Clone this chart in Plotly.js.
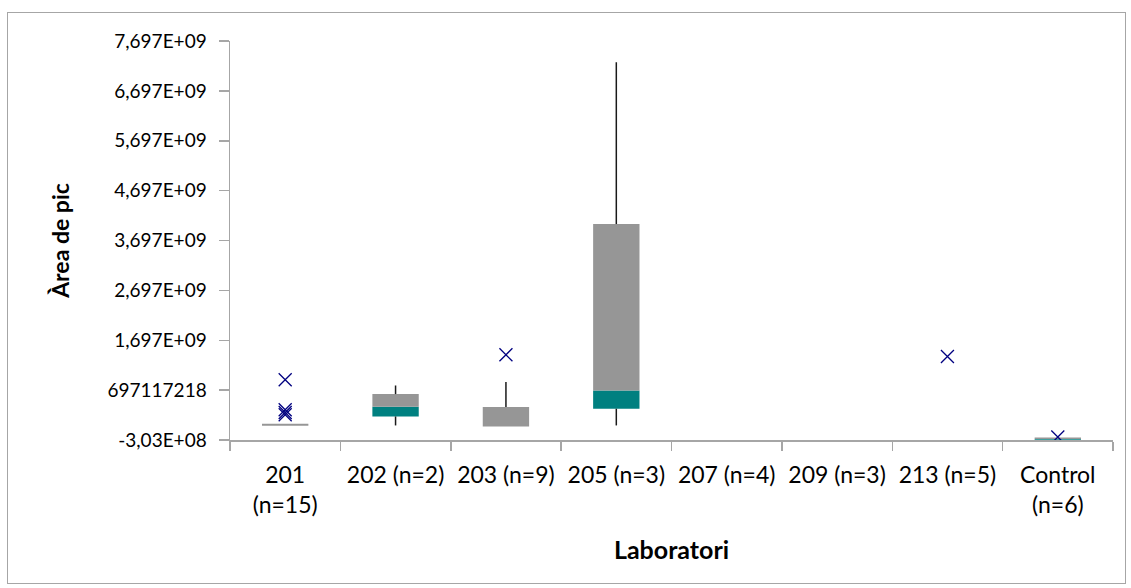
<!DOCTYPE html>
<html>
<head>
<meta charset="utf-8">
<script src="https://cdn.plot.ly/plotly-3.0.1.min.js"></script>
<style>
  html, body { margin: 0; padding: 0; background: #fff; }
  #frame { position: absolute; left: 7px; top: 12px; width: 1119px; height: 572px;
           border: 1.5px solid #a6a6a6; box-sizing: border-box; }
  #chart { position: absolute; left: 0; top: 0; width: 1131px; height: 588px; }
</style>
</head>
<body>
<div id="frame"></div>
<div id="chart"></div>
<script>
// Laboratories on the category axis
const labs = ["201<br>(n=15)", "202 (n=2)", "203 (n=9)", "205 (n=3)",
              "207 (n=4)", "209 (n=3)", "213 (n=5)", "Control<br>(n=6)"];

// Box statistics per laboratory (peak area); null where nothing is drawn
const q1       = [-0.015e9, 0.169e9, -0.031e9, 0.324e9, null, null, null, -0.300e9];
const median   = [-0.015e9, 0.364e9, -0.031e9, 0.690e9, null, null, null, -0.285e9];
const q3       = [ 0.025e9, 0.618e9,  0.358e9, 4.027e9, null, null, null, -0.255e9];
const whiskMin = [ null,   -0.011e9,  null,   -0.011e9, null, null, null, null];
const whiskMax = [ null,    0.790e9,  0.858e9, 7.271e9, null, null, null, null];

// Individual outliers
const outlierLab = ["201<br>(n=15)", "201<br>(n=15)", "201<br>(n=15)", "201<br>(n=15)",
                    "203 (n=9)", "213 (n=5)", "Control<br>(n=6)"];
const outlierVal = [0.904e9, 0.304e9, 0.250e9, 0.204e9, 1.405e9, 1.371e9, -0.243e9];

// Y tick positions and their labels
const yTickVals = [-303000000, 697117218, 1697e6, 2697e6, 3697e6, 4697e6, 5697e6, 6697e6, 7697e6];
const yTickText = ["-3,03E+08", "697117218", "1,697E+09", "2,697E+09", "3,697E+09",
                   "4,697E+09", "5,697E+09", "6,697E+09", "7,697E+09"];

const FONT = "Lato, 'Open Sans', sans-serif";

// lower box part: Q1 -> median, upper box part: median -> Q3
const lowerH = q1.map((v, i) => v === null ? null : median[i] - v);
const upperH = q3.map((v, i) => v === null ? null : v - median[i]);

// whisker segments (min -> Q1 and Q3 -> max), broken with nulls
const wx = [], wy = [];
labs.forEach((c, i) => {
  if (whiskMin[i] !== null) { wx.push(c, c, c); wy.push(whiskMin[i], q1[i], null); }
  if (whiskMax[i] !== null) { wx.push(c, c, c); wy.push(q3[i], whiskMax[i], null); }
});

const traces = [
  { type: "bar", x: labs, y: lowerH, base: q1, width: 0.42,
    marker: { color: "#008080" }, hoverinfo: "skip", showlegend: false },
  { type: "bar", x: labs, y: upperH, base: median, width: 0.42,
    marker: { color: "#969696" }, hoverinfo: "skip", showlegend: false },
  { type: "scatter", mode: "lines", x: wx, y: wy, connectgaps: false,
    line: { color: "#1a1a1a", width: 1.5 }, hoverinfo: "skip", showlegend: false },
  { type: "scatter", mode: "markers", x: outlierLab, y: outlierVal,
    marker: { symbol: "x-thin", size: 13, color: "#000080",
              line: { color: "#000080", width: 1.3 } },
    showlegend: false }
];

const layout = {
  width: 1131, height: 588,
  margin: { l: 230, r: 18, t: 41, b: 148 },
  paper_bgcolor: "rgba(0,0,0,0)", plot_bgcolor: "#fff",
  barmode: "overlay",
  font: { family: FONT, size: 20, color: "#000" },
  xaxis: {
    type: "category", categoryorder: "array", categoryarray: labs,
    range: [-0.5, 7.5],
    showline: true, linecolor: "#a6a6a6", linewidth: 1.5,
    ticks: "outside", tickson: "boundaries", ticklen: 9, tickcolor: "#a6a6a6", tickwidth: 1.5,
    ticklabelstandoff: 14, tickangle: 0,
    showgrid: false, zeroline: false,
    tickfont: { family: FONT, size: 23 },
    title: { text: "<b>Laboratori</b>", font: { family: FONT, size: 25 }, standoff: 24 }
  },
  yaxis: {
    range: [-303000000, 7697e6],
    tickmode: "array", tickvals: yTickVals, ticktext: yTickText,
    showline: true, linecolor: "#a6a6a6", linewidth: 1.5,
    ticks: "outside", ticklen: 10, tickcolor: "#a6a6a6", tickwidth: 1.5,
    ticklabelstandoff: 8,
    showgrid: false, zeroline: false,
    tickfont: { family: FONT, size: 19 },
    title: { text: "<b>Àrea de pic</b>", font: { family: FONT, size: 23 }, standoff: 31 }
  }
};

Plotly.newPlot("chart", traces, layout, { staticPlot: true });
</script>
</body>
</html>
